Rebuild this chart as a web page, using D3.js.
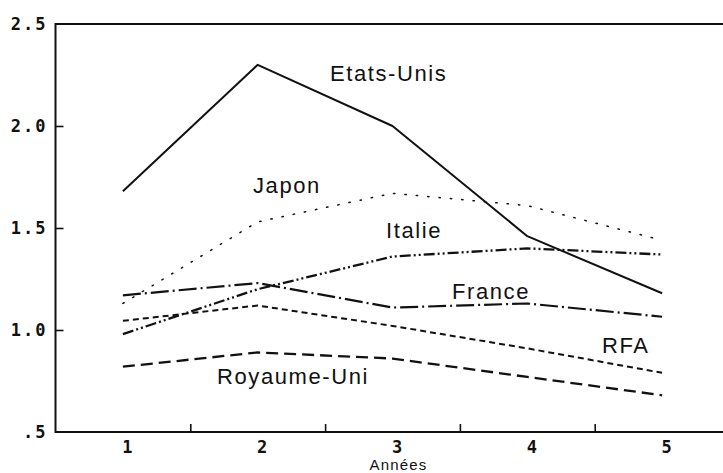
<!DOCTYPE html>
<html>
<head>
<meta charset="utf-8">
<script src="https://cdn.jsdelivr.net/npm/d3@7"></script>
<style>
  html, body { margin: 0; padding: 0; background: #fff; }
  svg { display: block; }
</style>
</head>
<body>
<svg id="chart" width="723" height="473"></svg>
<script>
// ---- data ----
const years = [1, 2, 3, 4, 5];
const etatsUnis   = [1.68, 2.30, 2.00, 1.46, 1.18];
const japon       = [1.13, 1.53, 1.67, 1.61, 1.44];
const italie      = [0.98, 1.20, 1.36, 1.40, 1.37];
const france      = [1.17, 1.23, 1.11, 1.13, 1.065];
const rfa         = [1.045, 1.12, 1.02, 0.91, 0.79];
const royaumeUni  = [0.82, 0.89, 0.86, 0.77, 0.68];
const yTickValues = [0.5, 1.0, 1.5, 2.0, 2.5];
const yTickLabels = [".5", "1.0", "1.5", "2.0", "2.5"];
const xTickLabels = ["1", "2", "3", "4", "5"];
const xAxisTitle = "Années";

const seriesNames = ["Etats-Unis", "Japon", "Italie", "France", "RFA", "Royaume-Uni"];
const seriesValues = [etatsUnis, japon, italie, france, rfa, royaumeUni];

// ---- styles ----
const dashStyles = {
  "Etats-Unis": null,
  "Japon": "1.4,10",
  "Italie": "11,3,2,3,2,3",
  "France": "18,4,2,4",
  "RFA": "6,4",
  "Royaume-Uni": "12,6"
};
const lineWidths = {
  "Etats-Unis": 2, "Japon": 1.5, "Italie": 2.3, "France": 2.2, "RFA": 2, "Royaume-Uni": 2.3
};
// label anchor (start, baseline) in data coordinates
const labelPos = {
  "Etats-Unis": [2.536, 2.221],
  "Japon":      [1.965, 1.672],
  "Italie":     [2.952, 1.451],
  "France":     [3.441, 1.152],
  "RFA":        [4.554, 0.887],
  "Royaume-Uni":[1.698, 0.735]
};

const svg = d3.select("#chart");
const x = d3.scaleLinear().domain([0.5, 5.5]).range([55.5, 729.5]);
const y = d3.scaleLinear().domain([0.5, 2.5]).range([432, 24]);

const tickFont = "'DejaVu Sans Mono', monospace";
const labelFont = "'Liberation Sans', Arial, sans-serif";

// frame: left, top, bottom
const frame = svg.append("g").attr("stroke", "#111").attr("stroke-width", 2).attr("fill", "none");
frame.append("line").attr("x1", x(0.5)).attr("x2", x(0.5)).attr("y1", y(2.5) - 1).attr("y2", y(0.5) + 1);
frame.append("line").attr("x1", x(0.5)).attr("x2", 723).attr("y1", y(2.5)).attr("y2", y(2.5));
frame.append("line").attr("x1", x(0.5)).attr("x2", 723).attr("y1", y(0.5)).attr("y2", y(0.5));

// y axis (ticks pointing inward)
const yAxis = d3.axisLeft(y)
  .tickValues(yTickValues)
  .tickFormat((d, i) => yTickLabels[i])
  .tickSize(-8)
  .tickPadding(18);
const gy = svg.append("g").attr("transform", `translate(${x(0.5)},0)`).call(yAxis);
gy.select(".domain").remove();
gy.selectAll(".tick line").attr("stroke", "#111").attr("stroke-width", 1.6)
  .attr("display", d => (d === 0.5 || d === 2.5) ? "none" : null);
gy.selectAll(".tick text")
  .attr("font-family", tickFont).attr("font-weight", "bold").attr("font-size", 17)
  .attr("letter-spacing", 2)
  .attr("fill", "#111").attr("x", -8);

// x axis: labels at integers, tick marks between
const xAxisLabels = d3.axisBottom(x)
  .tickValues(years)
  .tickFormat((d, i) => xTickLabels[i])
  .tickSize(0)
  .tickPadding(9);
const gx = svg.append("g").attr("transform", `translate(0,${y(0.5)})`).call(xAxisLabels);
gx.select(".domain").remove();
gx.selectAll(".tick text")
  .attr("font-family", tickFont).attr("font-weight", "bold").attr("font-size", 17)
  .attr("fill", "#111").attr("dx", 4);

const xAxisMarks = d3.axisTop(x)
  .tickValues([1.5, 2.5, 3.5, 4.5])
  .tickFormat("")
  .tickSize(8);
const gxm = svg.append("g").attr("transform", `translate(0,${y(0.5)})`).call(xAxisMarks);
gxm.select(".domain").remove();
gxm.selectAll(".tick line").attr("stroke", "#111").attr("stroke-width", 1.6);

svg.append("text")
  .attr("x", x(3) + 6).attr("y", 470)
  .attr("text-anchor", "middle")
  .attr("font-family", labelFont).attr("font-size", 15)
  .attr("letter-spacing", 1.2)
  .attr("fill", "#111")
  .text(xAxisTitle);

// lines
const line = d3.line().x((d, i) => x(years[i])).y(d => y(d));
seriesNames.forEach((name, si) => {
  const p = svg.append("path")
    .datum(seriesValues[si])
    .attr("d", line)
    .attr("fill", "none")
    .attr("stroke", "#111")
    .attr("stroke-width", lineWidths[name])
    .attr("stroke-linejoin", "round");
  if (name === "Japon") p.attr("stroke-linecap", "round");
  if (dashStyles[name]) p.attr("stroke-dasharray", dashStyles[name]);
});

// labels
seriesNames.forEach(name => {
  const [lx, ly] = labelPos[name];
  svg.append("text")
    .attr("x", x(lx)).attr("y", y(ly))
    .attr("font-family", labelFont).attr("font-size", 22)
    .attr("letter-spacing", 1.6)
    .attr("fill", "#111")
    .text(name);
});
</script>
</body>
</html>
